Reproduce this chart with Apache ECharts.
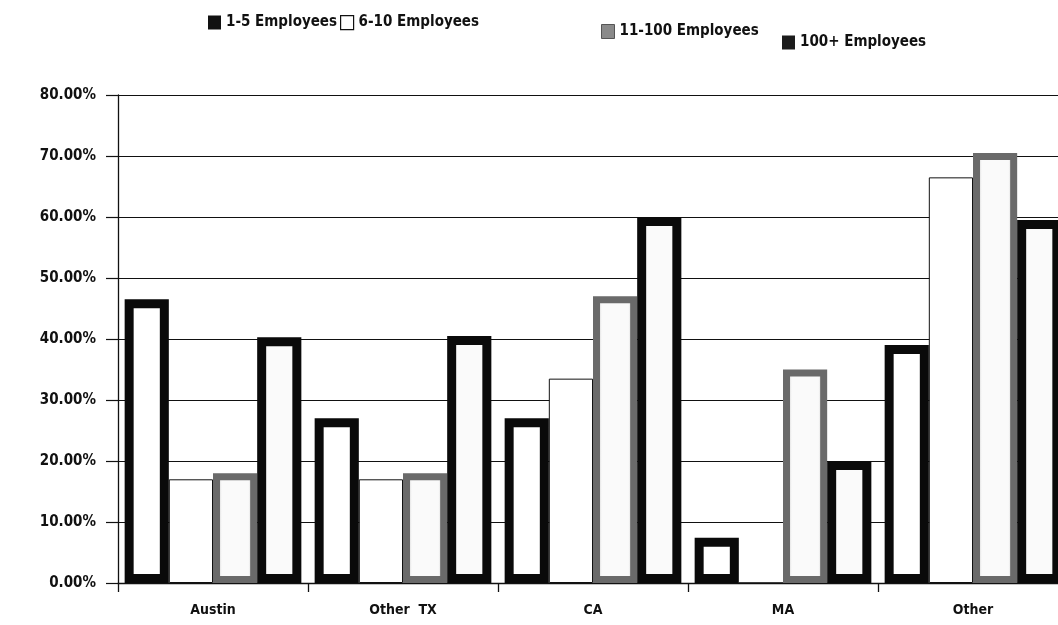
<!DOCTYPE html>
<html>
<head>
<meta charset="utf-8">
<script src="https://cdn.jsdelivr.net/npm/echarts@6/dist/echarts.min.js"></script>
<style>
  html, body { margin: 0; padding: 0; background: #fff; }
  #chart { width: 1058px; height: 625px; }
</style>
</head>
<body>
<div id="chart"></div>
<script>
// Share of respondents by location and company size (percent)
const categories = ['Austin', 'Other  TX', 'CA', 'MA', 'Other'];
const seriesNames = ['1-5 Employees', '6-10 Employees', '11-100 Employees', '100+ Employees'];
const emp1to5 = [46.5, 27.0, 27.0, 7.4, 39.0];
const emp6to10 = [17.0, 17.0, 33.5, 0, 66.5];
const emp11to100 = [18.0, 18.0, 47.0, 35.0, 70.5];
const emp100plus = [40.3, 40.5, 60.0, 20.0, 59.5];
const yTicks = { min: 0, max: 80, interval: 10 };

const FONT = '"Liberation Sans Narrow", "DejaVu Sans Condensed", "Roboto", sans-serif';

// horizontal gradients give the bars their soft inner edge
function hGrad(stops) {
  return new echarts.graphic.LinearGradient(0, 0, 1, 0, stops.map(s => ({ offset: s[0], color: s[1] })));
}

const styles = [
  { color: hGrad([[0, '#444'], [0.18, '#fff'], [0.82, '#fff'], [1, '#444']]), borderColor: '#0a0a0a', borderWidth: 9 },
  { color: '#ffffff', borderColor: '#111', borderWidth: 1 },
  { color: hGrad([[0, '#999'], [0.2, '#fafafa'], [0.8, '#fafafa'], [1, '#aaa']]), borderColor: '#6a6a6a', borderWidth: 7 },
  { color: hGrad([[0, '#bbb'], [0.2, '#fafafa'], [0.8, '#fafafa'], [1, '#444']]), borderColor: '#0a0a0a', borderWidth: 9 }
];
const legendIcons = [
  { color: '#111', borderColor: '#111', borderWidth: 0 },
  { color: '#fff', borderColor: '#111', borderWidth: 1.2 },
  { color: '#8a8a8a', borderColor: '#555', borderWidth: 1 },
  { color: '#1c1c1c', borderColor: '#111', borderWidth: 0 }
];
const legendPos = [[203, 10], [335, 10], [596, 19], [777, 30]];
const values = [emp1to5, emp6to10, emp11to100, emp100plus];

const chart = echarts.init(document.getElementById('chart'), null, { renderer: 'canvas' });

chart.setOption({
  animation: false,
  backgroundColor: '#ffffff',
  textStyle: { fontFamily: FONT },
  legend: seriesNames.map((name, i) => ({
    data: [{ name: name, itemStyle: legendIcons[i] }],
    left: legendPos[i][0],
    top: legendPos[i][1],
    icon: 'rect',
    itemWidth: 13,
    itemHeight: 14,
    itemGap: 6,
    selectedMode: false,
    textStyle: { fontFamily: FONT, fontWeight: 'bold', fontSize: 15, color: '#111' }
  })),
  // the plot runs slightly past the right edge of the page
  grid: { left: 118, width: 950, top: 95, bottom: 42, containLabel: false, outerBoundsMode: 'none' },
  xAxis: {
    type: 'category',
    data: categories,
    axisLine: { show: true, lineStyle: { color: '#111', width: 1.3 } },
    axisTick: { show: true, alignWithLabel: false, length: 9, lineStyle: { color: '#111', width: 1.3 } },
    axisLabel: { margin: 20, fontFamily: FONT, fontWeight: 'bold', fontSize: 14, color: '#111' },
    splitLine: { show: false }
  },
  yAxis: {
    type: 'value',
    min: yTicks.min,
    max: yTicks.max,
    interval: yTicks.interval,
    axisLine: { show: true, lineStyle: { color: '#111', width: 1.3 } },
    axisTick: { show: true, length: 12, lineStyle: { color: '#111', width: 1.2 } },
    axisLabel: {
      margin: 22,
      fontFamily: FONT, fontWeight: 'bold', fontSize: 15, color: '#111',
      formatter: v => v.toFixed(2) + '%'
    },
    splitLine: { show: true, lineStyle: { color: '#111', width: 1.1 } }
  },
  series: seriesNames.map((name, i) => ({
    name: name,
    type: 'bar',
    data: values[i],
    barGap: '0%',
    barCategoryGap: '7%',
    itemStyle: styles[i],
    emphasis: { disabled: true }
  }))
});
</script>
</body>
</html>
